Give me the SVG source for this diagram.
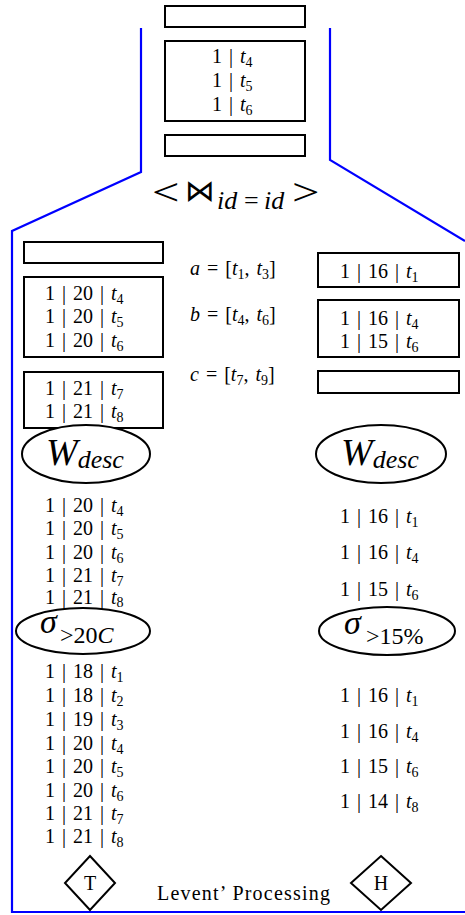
<svg xmlns="http://www.w3.org/2000/svg" width="465" height="915" viewBox="0 0 465 915">
<style>
.t{font-family:'Liberation Serif','DejaVu Serif',serif;font-size:20px;fill:#000;word-spacing:2px}
.i{font-style:italic}
.s{font-size:14px}
.sym{font-family:'DejaVu Sans',sans-serif;fill:#000}
.box{fill:none;stroke:#000;stroke-width:2}
.op{fill:#fff;stroke:#000;stroke-width:2}
.blue{fill:none;stroke:#0000ff;stroke-width:2.2}
</style>
<rect width="465" height="915" fill="#fff"/>
<g id="connectors">
<polyline class="blue" points="141,28 141,172 12,231 12,912 465,912"/>
<polyline class="blue" points="330,28 330,160 465,241"/>
</g>
<g id="join-result">
<rect class="box" x="165" y="6" width="140" height="21"/>
<rect class="box" x="165" y="41" width="140" height="80"/>
<rect class="box" x="165" y="135" width="140" height="21"/>
<text class="t" x="212" y="63">1 | <tspan class="i">t</tspan><tspan class="s" dy="4">4</tspan></text>
<text class="t" x="212" y="87">1 | <tspan class="i">t</tspan><tspan class="s" dy="4">5</tspan></text>
<text class="t" x="212" y="111">1 | <tspan class="i">t</tspan><tspan class="s" dy="4">6</tspan></text>
</g>
<g id="join-label">
<text class="t" transform="translate(152,205) scale(1.28,1)" x="0" y="0" style="font-size:38px">&lt;</text>
<text class="sym" x="185" y="201" style="font-size:30px">⋈</text>
<text class="t i" x="217" y="209" style="font-size:26px">id</text>
<text class="t" x="244" y="209" style="font-size:26px">=</text>
<text class="t i" x="264" y="209" style="font-size:26px">id</text>
<text class="t" transform="translate(292,205) scale(1.28,1)" x="0" y="0" style="font-size:38px">&gt;</text>
</g>
<g id="windows-T">
<rect class="box" x="24" y="242" width="139" height="21"/>
<rect class="box" x="24" y="277" width="139" height="80"/>
<rect class="box" x="24" y="372" width="139" height="56"/>
<text class="t" x="45" y="300">1 | 20 | <tspan class="i">t</tspan><tspan class="s" dy="4">4</tspan></text>
<text class="t" x="45" y="323">1 | 20 | <tspan class="i">t</tspan><tspan class="s" dy="4">5</tspan></text>
<text class="t" x="45" y="347">1 | 20 | <tspan class="i">t</tspan><tspan class="s" dy="4">6</tspan></text>
<text class="t" x="45" y="395">1 | 21 | <tspan class="i">t</tspan><tspan class="s" dy="4">7</tspan></text>
<text class="t" x="45" y="418">1 | 21 | <tspan class="i">t</tspan><tspan class="s" dy="4">8</tspan></text>
</g>
<g id="window-labels">
<text class="t" x="190" y="275"><tspan class="i">a</tspan> = [<tspan class="i">t</tspan><tspan class="s" dy="4">1</tspan><tspan dy="-4">, </tspan><tspan class="i">t</tspan><tspan class="s" dy="4">3</tspan><tspan dy="-4">]</tspan></text>
<text class="t" x="190" y="321"><tspan class="i">b</tspan> = [<tspan class="i">t</tspan><tspan class="s" dy="4">4</tspan><tspan dy="-4">, </tspan><tspan class="i">t</tspan><tspan class="s" dy="4">6</tspan><tspan dy="-4">]</tspan></text>
<text class="t" x="190" y="381"><tspan class="i">c</tspan> = [<tspan class="i">t</tspan><tspan class="s" dy="4">7</tspan><tspan dy="-4">, </tspan><tspan class="i">t</tspan><tspan class="s" dy="4">9</tspan><tspan dy="-4">]</tspan></text>
</g>
<g id="windows-H">
<rect class="box" x="318" y="253" width="141" height="34"/>
<rect class="box" x="318" y="300" width="141" height="57"/>
<rect class="box" x="318" y="371" width="141" height="22"/>
<text class="t" x="340" y="278">1 | 16 | <tspan class="i">t</tspan><tspan class="s" dy="4">1</tspan></text>
<text class="t" x="340" y="325">1 | 16 | <tspan class="i">t</tspan><tspan class="s" dy="4">4</tspan></text>
<text class="t" x="340" y="348">1 | 15 | <tspan class="i">t</tspan><tspan class="s" dy="4">6</tspan></text>
</g>
<g id="wdesc-T">
<ellipse class="op" cx="86" cy="454" rx="64" ry="29"/>
<text class="t i" x="46" y="465" style="font-size:38px">W<tspan dy="3" style="font-size:26px">desc</tspan></text>
</g>
<g id="wdesc-H">
<ellipse class="op" cx="381" cy="454" rx="65" ry="29"/>
<text class="t i" x="341" y="465" style="font-size:38px">W<tspan dy="3" style="font-size:26px">desc</tspan></text>
</g>
<g id="stream-T-windowed">
<text class="t" x="45" y="512">1 | 20 | <tspan class="i">t</tspan><tspan class="s" dy="4">4</tspan></text>
<text class="t" x="45" y="535">1 | 20 | <tspan class="i">t</tspan><tspan class="s" dy="4">5</tspan></text>
<text class="t" x="45" y="559">1 | 20 | <tspan class="i">t</tspan><tspan class="s" dy="4">6</tspan></text>
<text class="t" x="45" y="582">1 | 21 | <tspan class="i">t</tspan><tspan class="s" dy="4">7</tspan></text>
<text class="t" x="45" y="604">1 | 21 | <tspan class="i">t</tspan><tspan class="s" dy="3">8</tspan></text>
</g>
<g id="stream-H-windowed">
<text class="t" x="340" y="523">1 | 16 | <tspan class="i">t</tspan><tspan class="s" dy="4">1</tspan></text>
<text class="t" x="340" y="559">1 | 16 | <tspan class="i">t</tspan><tspan class="s" dy="4">4</tspan></text>
<text class="t" x="340" y="596">1 | 15 | <tspan class="i">t</tspan><tspan class="s" dy="4">6</tspan></text>
</g>
<g id="sigma-T">
<ellipse class="op" cx="83" cy="631" rx="67" ry="23"/>
<text class="t i" x="40" y="633" style="font-size:34px">σ</text>
<text class="t" x="60" y="643" style="font-size:24px">&gt;20<tspan class="i">C</tspan></text>
</g>
<g id="sigma-H">
<ellipse class="op" cx="387" cy="631" rx="68" ry="24"/>
<text class="t i" x="344" y="634" style="font-size:34px">σ</text>
<text class="t" x="366" y="644" style="font-size:24px">&gt;15%</text>
</g>
<g id="stream-T">
<text class="t" x="45" y="678">1 | 18 | <tspan class="i">t</tspan><tspan class="s" dy="4">1</tspan></text>
<text class="t" x="45" y="702">1 | 18 | <tspan class="i">t</tspan><tspan class="s" dy="4">2</tspan></text>
<text class="t" x="45" y="726">1 | 19 | <tspan class="i">t</tspan><tspan class="s" dy="4">3</tspan></text>
<text class="t" x="45" y="750">1 | 20 | <tspan class="i">t</tspan><tspan class="s" dy="4">4</tspan></text>
<text class="t" x="45" y="773">1 | 20 | <tspan class="i">t</tspan><tspan class="s" dy="4">5</tspan></text>
<text class="t" x="45" y="797">1 | 20 | <tspan class="i">t</tspan><tspan class="s" dy="4">6</tspan></text>
<text class="t" x="45" y="820">1 | 21 | <tspan class="i">t</tspan><tspan class="s" dy="4">7</tspan></text>
<text class="t" x="45" y="843">1 | 21 | <tspan class="i">t</tspan><tspan class="s" dy="4">8</tspan></text>
</g>
<g id="stream-H">
<text class="t" x="340" y="702">1 | 16 | <tspan class="i">t</tspan><tspan class="s" dy="4">1</tspan></text>
<text class="t" x="340" y="738">1 | 16 | <tspan class="i">t</tspan><tspan class="s" dy="4">4</tspan></text>
<text class="t" x="340" y="773">1 | 15 | <tspan class="i">t</tspan><tspan class="s" dy="4">6</tspan></text>
<text class="t" x="340" y="808">1 | 14 | <tspan class="i">t</tspan><tspan class="s" dy="4">8</tspan></text>
</g>
<g id="source-T">
<polygon class="op" points="90,856 115,883 90,910 65,883"/>
<text class="t" x="90" y="890" text-anchor="middle">T</text>
</g>
<g id="source-H">
<polygon class="op" points="381,856 411,883 381,910 351,883"/>
<text class="t" x="381" y="890" text-anchor="middle">H</text>
</g>
<g id="caption">
<text class="t" x="157" y="900" style="word-spacing:0" textLength="173">Levent’ Processing</text>
</g>
</svg>
